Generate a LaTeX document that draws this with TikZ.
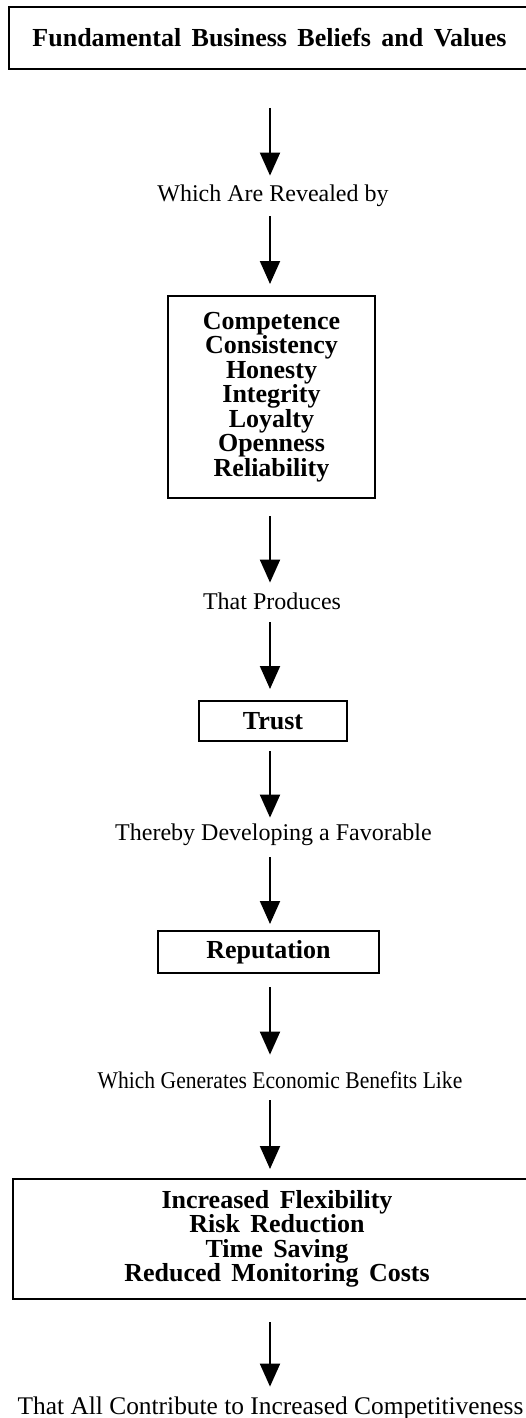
\documentclass[tikz,border=0pt]{standalone}
\usepackage{fontspec}
\setmainfont{Liberation Serif}
\newfontfamily\boxfont[WordSpace=1.6]{Liberation Serif}
\newfontfamily\narrowfont[FakeStretch=0.9]{Liberation Serif}
\usetikzlibrary{arrows.meta, positioning}

\begin{document}
\begin{tikzpicture}[
    x=0.5pt, y=-0.5pt,
    stage/.style={rectangle, draw, line width=1pt, align=center, inner sep=0pt,
        font=\boxfont\bfseries\fontsize{13}{12.25}\selectfont},
    linktext/.style={inner sep=0pt, text height=8.5pt, text depth=2.5pt,
        font=\fontsize{12}{14}\selectfont},
    arrow/.style={-{Triangle[width=10pt, length=11.5pt]}, line width=1pt}
]
    \useasboundingbox (0,0) rectangle (525,1418);
    \coordinate (axis) at (270,0);

    % boxes
    \node[stage, minimum width=260.5pt, minimum height=31pt] (beliefs) at (269.5, 38) {Fundamental Business Beliefs and Values};
    \node[stage, minimum width=103.5pt, minimum height=101pt] (virtues) at (271.5, 397)
        {Competence\\Consistency\\Honesty\\Integrity\\Loyalty\\Openness\\Reliability};
    \node[stage, minimum width=74pt, minimum height=20pt] (trust) at (273, 721) {Trust};
    \node[stage, minimum width=110.5pt, minimum height=21pt] (reputation) at (268.5, 952) {Reputation};
    \node[stage, minimum width=264pt, minimum height=60pt] (benefits) at (277, 1239)
        {Increased Flexibility\\Risk Reduction\\Time Saving\\Reduced Monitoring Costs};

    % link texts
    \node[linktext] (revealed) at (273, 195) {Which Are Revealed by};
    \node[linktext] (produces) at (272, 603) {That Produces};
    \node[linktext] (favorable) at (273.5, 834) {Thereby Developing a Favorable};
    \node[linktext, font=\narrowfont\fontsize{12}{14}\selectfont] (generates) at (280, 1082) {Which Generates Economic Benefits Like};
    \node[linktext, font=\fontsize{12.7}{15}\selectfont] (competitive) at (270.5, 1408) {That All Contribute to Increased Competitiveness};

    % arrows
    \draw[arrow, shorten <=19pt, shorten >=4pt] (beliefs.south -| axis) -- (revealed.north -| axis);
    \draw[arrow, shorten <=5pt, shorten >=5.5pt] (revealed.south -| axis) -- (virtues.north -| axis);
    \draw[arrow, shorten <=8.5pt, shorten >=4.5pt] (virtues.south -| axis) -- (produces.north -| axis);
    \draw[arrow, shorten <=4pt, shorten >=5.5pt] (produces.south -| axis) -- (trust.north -| axis);
    \draw[arrow, shorten <=4.5pt, shorten >=2.5pt] (trust.south -| axis) -- (favorable.north -| axis);
    \draw[arrow, shorten <=6pt, shorten >=3pt] (favorable.south -| axis) -- (reputation.north -| axis);
    \draw[arrow, shorten <=6.5pt, shorten >=8pt] (reputation.south -| axis) -- (generates.north -| axis);
    \draw[arrow, shorten <=3.5pt, shorten >=4.5pt] (generates.south -| axis) -- (benefits.north -| axis);
    \draw[arrow, shorten <=11pt, shorten >=5pt] (benefits.south -| axis) -- (competitive.north -| axis);
\end{tikzpicture}
\end{document}
